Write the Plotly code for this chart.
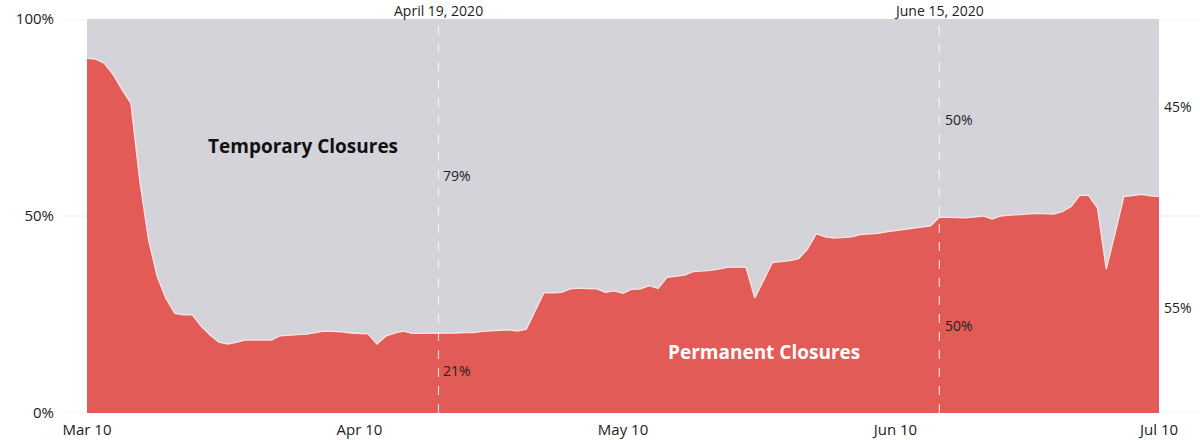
import plotly.graph_objects as go
import pandas as pd

start_date = "2020-03-10"
permanent = [
    90.0, 89.8, 88.7, 85.8, 82.0, 78.6, 59.0, 44.0, 34.6, 29.0,
    25.3, 24.9, 24.9, 22.0, 19.8, 18.0, 17.5, 17.9, 18.5, 18.5,
    18.5, 18.5, 19.6, 19.8, 19.9, 20.0, 20.4, 20.8, 20.7, 20.6,
    20.3, 20.2, 20.1, 17.5, 19.5, 20.3, 20.8, 20.2, 20.2, 20.2,
    20.3, 20.3, 20.3, 20.4, 20.4, 20.7, 20.9, 21.0, 21.1, 20.8,
    21.3, 25.8, 30.5, 30.5, 30.6, 31.5, 31.7, 31.6, 31.5, 30.6,
    31.0, 30.4, 31.4, 31.5, 32.3, 31.6, 34.4, 34.7, 35.0, 35.9,
    36.0, 36.2, 36.6, 37.0, 37.0, 37.0, 29.2, 33.7, 38.2, 38.4,
    38.7, 39.2, 41.6, 45.5, 44.7, 44.4, 44.6, 44.7, 45.3, 45.4,
    45.6, 46.0, 46.3, 46.6, 46.9, 47.2, 47.5, 49.7, 49.7, 49.6,
    49.5, 49.7, 50.0, 49.2, 50.0, 50.2, 50.3, 50.5, 50.7, 50.6,
    50.5, 51.1, 52.4, 55.3, 55.2, 52.0, 36.5, 45.6, 54.9, 55.2,
    55.5, 55.1, 54.9,
]
temporary = [round(100 - p, 1) for p in permanent]
dates = pd.date_range(start_date, periods=len(permanent), freq="D")

tick_dates = ["2020-03-10", "2020-04-10", "2020-05-10", "2020-06-10", "2020-07-10"]
tick_labels = ["Mar 10", "Apr 10", "May 10", "Jun 10", "Jul 10"]
y_ticks = [0, 50, 100]
y_tick_labels = ["0%", "50%", "100%"]

markers = ["2020-04-19", "2020-06-15"]
marker_titles = ["April 19, 2020", "June 15, 2020"]
marker_temp = ["79%", "50%"]
marker_perm = ["21%", "50%"]
end_temp, end_perm = "45%", "55%"

RED = "#e25b56"
GRAY = "#d4d3da"
FONT = "Open Sans"

fig = go.Figure()
fig.add_trace(go.Scatter(
    x=dates, y=permanent, stackgroup="one", mode="lines",
    line=dict(color="#fbe3df", width=1.3), fillcolor=RED,
    name="Permanent Closures", hoverinfo="skip",
))
fig.add_trace(go.Scatter(
    x=dates, y=temporary, stackgroup="one", mode="lines",
    line=dict(color=GRAY, width=0), fillcolor=GRAY,
    name="Temporary Closures", hoverinfo="skip",
))

# faint gridlines extending past plot
for yv in y_ticks:
    fig.add_shape(type="line", xref="paper", yref="y", x0=-0.025, x1=1.04,
                  y0=yv, y1=yv, line=dict(color="#f0f0f0", width=1), layer="below")

for d, title, t, p, ty, py, xs in zip(markers, marker_titles, marker_temp, marker_perm,
                                      [60.2, 74.6], [10.7, 22.1], [3, 4]):
    fig.add_shape(type="line", xref="x", yref="paper", x0=d, x1=d, y0=0, y1=1,
                  line=dict(color="rgba(255,255,255,0.75)", width=1.2, dash="dash"),
                  layer="above")
    fig.add_annotation(x=d, y=1, xref="x", yref="paper", yanchor="bottom", yshift=-3,
                       text=title, showarrow=False,
                       font=dict(family=FONT, size=14, color="#222"))
    fig.add_annotation(x=d, y=ty, xref="x", yref="y", xanchor="left", xshift=xs,
                       text=t, showarrow=False,
                       font=dict(family=FONT, size=14, color="#222"))
    fig.add_annotation(x=d, y=py, xref="x", yref="y", xanchor="left", xshift=xs,
                       text=p, showarrow=False,
                       font=dict(family=FONT, size=14, color="#222"))

fig.add_annotation(x=1, y=77.7, xref="paper", yref="y", xanchor="left", xshift=3,
                   text=end_temp, showarrow=False, font=dict(family=FONT, size=14, color="#222"))
fig.add_annotation(x=1, y=26.9, xref="paper", yref="y", xanchor="left", xshift=3,
                   text=end_perm, showarrow=False, font=dict(family=FONT, size=14, color="#222"))

fig.add_annotation(x="2020-04-03 14:00", y=67.8, xref="x", yref="y",
                   text="<b>Temporary Closures</b>", showarrow=False,
                   font=dict(family=FONT, size=19, color="#111"))
fig.add_annotation(x="2020-05-26", y=15.5, xref="x", yref="y",
                   text="<b>Permanent Closures</b>", showarrow=False,
                   font=dict(family=FONT, size=19, color="#ffffff"))

fig.update_layout(
    width=1200, height=440,
    margin=dict(l=87, r=41, t=19, b=27, autoexpand=False),
    paper_bgcolor="white", plot_bgcolor="white",
    showlegend=False,
    font=dict(family=FONT, size=15, color="#222"),
    xaxis=dict(type="date", range=["2020-03-10", "2020-07-10"],
               tickvals=tick_dates, ticktext=tick_labels,
               showgrid=False, zeroline=False, showline=False, ticks="",
               ticklabelstandoff=6, automargin=False,
               tickfont=dict(family=FONT, size=15, color="#222")),
    yaxis=dict(range=[0, 100], tickvals=y_ticks, ticktext=y_tick_labels,
               showgrid=False, zeroline=False, showline=False, ticks="",
               ticklabelstandoff=32, automargin=False,
               tickfont=dict(family=FONT, size=15, color="#222")),
)

fig.write_html("out.html")
